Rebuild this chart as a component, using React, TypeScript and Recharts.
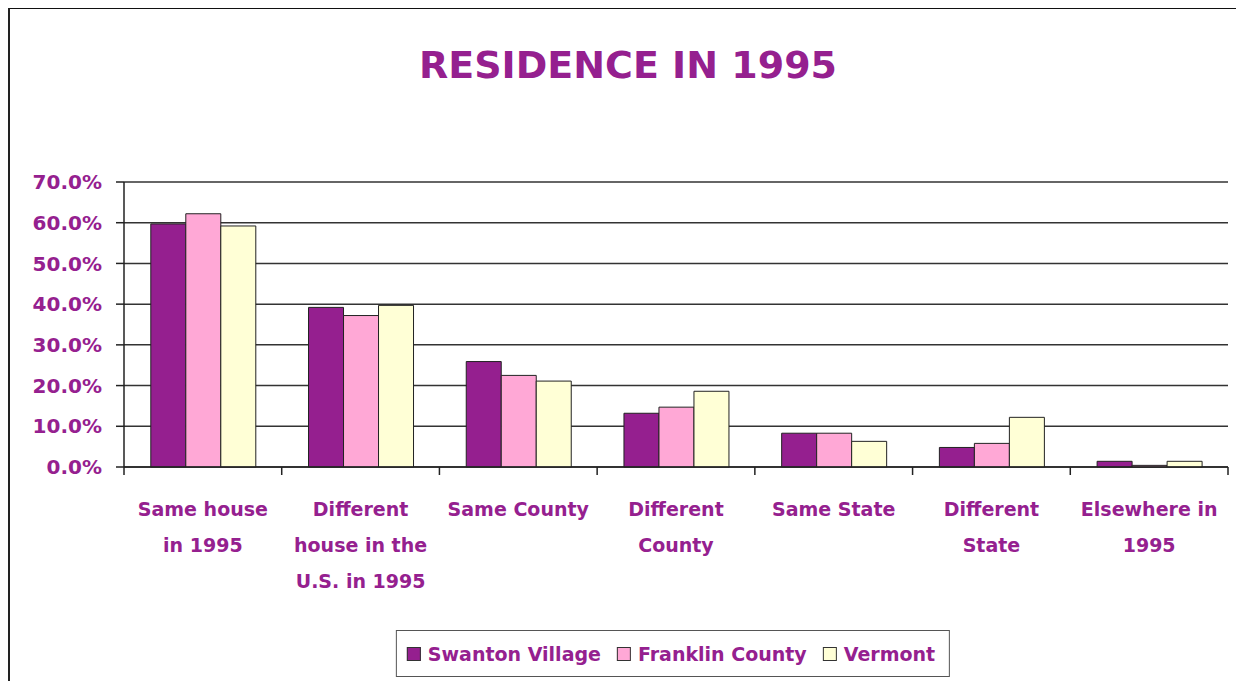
import { BarChart, Bar, XAxis, YAxis, CartesianGrid } from 'recharts';

const categories = [
  'Same house in 1995',
  'Different house in the U.S. in 1995',
  'Same County',
  'Different County',
  'Same State',
  'Different State',
  'Elsewhere in 1995',
];
const categoryLines = [
  ['Same house', 'in 1995'],
  ['Different', 'house in the', 'U.S. in 1995'],
  ['Same County'],
  ['Different', 'County'],
  ['Same State'],
  ['Different', 'State'],
  ['Elsewhere in', '1995'],
];
const swantonVillage = [59.7, 39.2, 25.9, 13.2, 8.3, 4.8, 1.4];
const franklinCounty = [62.2, 37.2, 22.5, 14.7, 8.3, 5.8, 0.4];
const vermont = [59.2, 39.7, 21.1, 18.6, 6.3, 12.2, 1.4];
const yTicks = [0, 10, 20, 30, 40, 50, 60, 70];

const seriesNames = ['Swanton Village', 'Franklin County', 'Vermont'];
const seriesKeys = ['swanton', 'franklin', 'vermont'];
const seriesColors = ['#951F8F', '#FFA8D6', '#FFFFD6'];

const data = categories.map((c, i) => ({
  category: c,
  swanton: swantonVillage[i],
  franklin: franklinCounty[i],
  vermont: vermont[i],
}));

const FONT = '"DejaVu Sans", sans-serif';
const PURPLE = '#95208F';
const CHART_W = 1236;
const CHART_H = 673;
const MARGIN = { top: 174, right: 16, left: 0, bottom: 84 };
const Y_AXIS_W = 116;
const BAND = (CHART_W - MARGIN.left - MARGIN.right - Y_AXIS_W) / categories.length;

const CategoryTick = (props: any) => {
  const { x, y, index } = props;
  const lines = categoryLines[index] || [];
  const left = x - BAND / 2;
  return (
    <g>
      <line x1={left} x2={left} y1={y} y2={y + 8} stroke="#222" strokeWidth={1.5} />
      {index === categories.length - 1 && (
        <line x1={x + BAND / 2} x2={x + BAND / 2} y1={y} y2={y + 8} stroke="#222" strokeWidth={1.5} />
      )}
      {lines.map((l: string, i: number) => (
        <text
          key={i}
          x={x}
          y={y + 49 + i * 36}
          textAnchor="middle"
          fill={PURPLE}
          fontFamily={FONT}
          fontWeight="bold"
          fontSize={19}
        >
          {l}
        </text>
      ))}
    </g>
  );
};

const App = () => {
  return (
    <div style={{ position: 'relative', width: CHART_W, height: CHART_H }}>
      <div
        style={{
          position: 'absolute',
          left: 0,
          top: -1,
          width: CHART_W,
          height: CHART_H + 1,
          borderTop: '2px solid #111',
          borderLeft: '2px solid #222',
          boxSizing: 'border-box',
        }}
      />
      <div
        style={{
          position: 'absolute',
          left: 0,
          top: 38,
          width: 1240,
          textAlign: 'center',
          fontFamily: FONT,
          fontWeight: 'bold',
          fontSize: 38,
          lineHeight: '38px',
          color: PURPLE,
        }}
      >
        RESIDENCE IN 1995
      </div>
      <BarChart
        width={CHART_W}
        height={CHART_H}
        data={data}
        margin={MARGIN}
        barCategoryGap="17%"
        barGap={0}
        style={{ position: 'absolute', left: 0, top: 0 }}
      >
        <CartesianGrid vertical={false} stroke="#333" strokeWidth={1.5} />
        <XAxis
          dataKey="category"
          interval={0}
          height={130}
          tickSize={0}
          tickMargin={0}
          tickLine={false}
          axisLine={{ stroke: '#222', strokeWidth: 1.5 }}
          tick={<CategoryTick />}
        />
        <YAxis
          width={Y_AXIS_W}
          domain={[0, 70]}
          ticks={yTicks}
          interval={0}
          tickSize={8}
          tickMargin={14}
          axisLine={{ stroke: '#222', strokeWidth: 1.5 }}
          tickLine={{ stroke: '#222', strokeWidth: 1.5 }}
          tickFormatter={(v: number) => `${v.toFixed(1)}%`}
          tick={{ fill: PURPLE, fontFamily: FONT, fontWeight: 'bold', fontSize: 20 }}
        />
        {seriesKeys.map((k, i) => (
          <Bar
            key={k}
            dataKey={k}
            name={seriesNames[i]}
            fill={seriesColors[i]}
            stroke="#222"
            strokeWidth={1}
            isAnimationActive={false}
          />
        ))}
      </BarChart>
      <div
        style={{
          position: 'absolute',
          left: 665,
          top: 622,
          transform: 'translateX(-50%)',
          height: 47,
          boxSizing: 'border-box',
          border: '1.5px solid #555',
          background: '#fff',
          display: 'flex',
          alignItems: 'center',
          padding: '0 14px 0 10px',
          gap: 16,
          whiteSpace: 'nowrap',
        }}
      >
        {seriesNames.map((n, i) => (
          <div key={n} style={{ display: 'flex', alignItems: 'center', gap: 7 }}>
            <div
              style={{
                width: 14,
                height: 14,
                boxSizing: 'border-box',
                background: seriesColors[i],
                border: '1.5px solid #333',
              }}
            />
            <span style={{ fontFamily: FONT, fontWeight: 'bold', fontSize: 19, color: PURPLE }}>{n}</span>
          </div>
        ))}
      </div>
    </div>
  );
};

export default App;
